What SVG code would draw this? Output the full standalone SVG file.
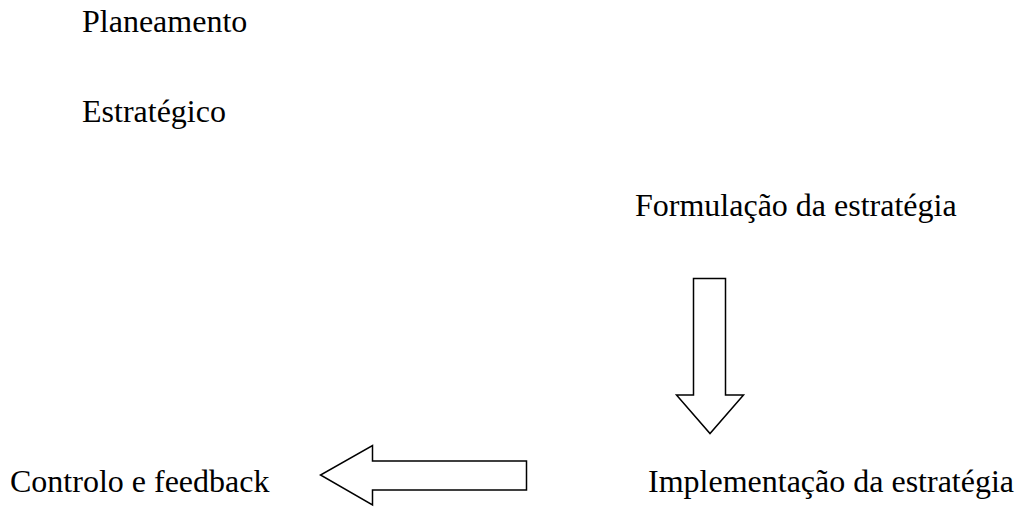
<svg xmlns="http://www.w3.org/2000/svg" width="1020" height="507" viewBox="0 0 1020 507">
<style>
text{font-family:"Liberation Serif","Times New Roman",serif;font-size:32px;fill:#000}
.arrow{fill:#fff;stroke:#000;stroke-width:1.5;stroke-linejoin:miter}
</style>
<rect width="1020" height="507" fill="#fff"/>
<g id="title">
<text x="82" y="32">Planeamento</text>
<text x="82" y="122">Estratégico</text>
</g>
<g id="formulacao"><text x="635" y="216">Formulação da estratégia</text></g>
<g id="implementacao"><text x="648" y="492">Implementação da estratégia</text></g>
<g id="controlo"><text x="10" y="492">Controlo e feedback</text></g>
<g id="connectors">
<polygon class="arrow" points="693.5,278.5 725.5,278.5 725.5,395 743.5,395 710,433.5 676.5,395 693.5,395"/>
<polygon class="arrow" points="526.5,461 372.5,461 372.5,445.5 320.5,475 372.5,505 372.5,490 526.5,490"/>
</g>
</svg>
